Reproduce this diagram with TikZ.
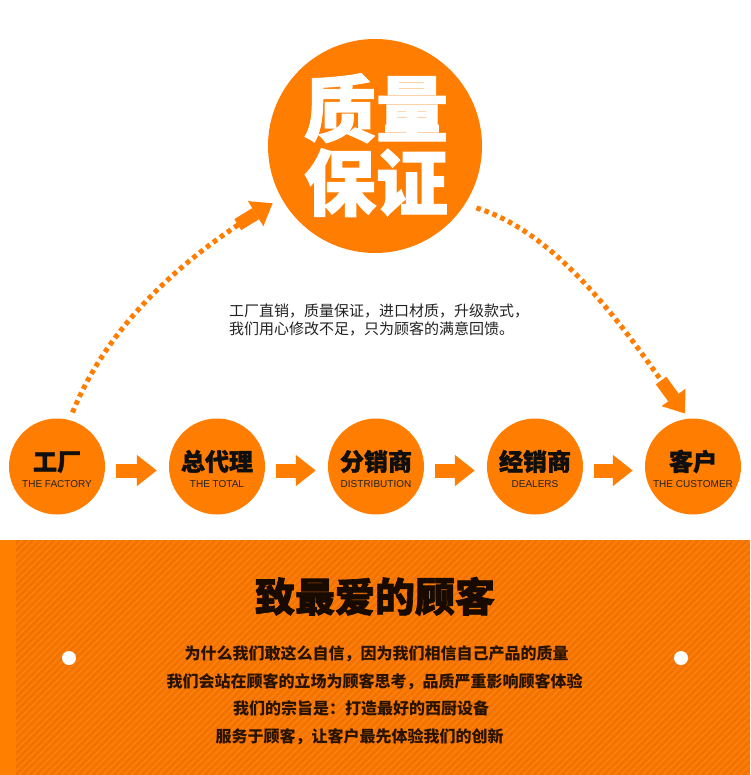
\documentclass[tikz,border=0pt]{standalone}
\usepackage{fontspec}
\setmainfont{Liberation Sans}
\newfontfamily\cjk{Noto Sans CJK SC}
\newfontfamily\cjkh[FakeBold=1.6]{Noto Sans CJK SC}
\usetikzlibrary{arrows.meta,calc}
\definecolor{org}{RGB}{255,125,0}
\definecolor{band}{RGB}{244,115,0}
\definecolor{stripe}{RGB}{250,127,12}
\definecolor{strip}{RGB}{255,128,0}
\definecolor{ink}{RGB}{15,15,15}
\definecolor{grey}{RGB}{34,34,34}
\definecolor{brownink}{RGB}{40,18,0}
\definecolor{titleink}{RGB}{25,10,0}
\begin{document}
\begin{tikzpicture}[x=1pt,y=-1pt,
  circ/.style={circle,fill=org,draw=none,inner sep=0pt},
  toptext/.style={font=\cjkh\bfseries\fontsize{72}{72}\selectfont,text=white,inner sep=0pt,text height=59.8pt,text depth=5pt},
  cnlab/.style={font=\cjkh\bfseries\fontsize{24}{24}\selectfont,text=ink,inner sep=0pt,text height=19.9pt,text depth=1.7pt},
  enlab/.style={font=\fontsize{10}{10}\selectfont,text=grey,inner sep=0pt,text height=7.2pt,text depth=0pt},
  para/.style={font=\cjk\fontsize{15}{15}\selectfont,text=grey,inner sep=0pt,anchor=west,text height=12.5pt,text depth=1pt},
  bodyline/.style={font=\cjk\bfseries\fontsize{16}{16}\selectfont,text=brownink,inner sep=0pt,text height=13.3pt,text depth=1.1pt},
  titletext/.style={font=\cjkh\bfseries\fontsize{40}{40}\selectfont,text=titleink,inner sep=0pt,text height=33.2pt,text depth=2.8pt},
  wdot/.style={circle,fill=white,draw=none,inner sep=0pt,minimum size=14pt},
  blockarrow/.style={draw=org,line width=14pt,-{Triangle[width=30pt,length=20pt]}},
  dotarc/.style={draw=org,line width=5pt,dash pattern=on 4.6pt off 4pt,
    -{Rectangle[length=21pt,width=13pt,sep=0pt]Triangle[length=20pt,width=28pt]}}
]
\useasboundingbox (0,0) rectangle (750,775);
\fill[white] (0,0) rectangle (750,775);

% bottom band
\begin{scope}
\clip (0,540) rectangle (750,775);
\fill[band] (0,540) rectangle (750,775);
\foreach \x in {-240,-233,...,750} \draw[stripe,line width=2pt] (\x,775) -- (\x+235,540);
\fill[strip] (0,540) rectangle (16,775);
\end{scope}

% top circle
\node[circ,minimum size=214pt] (top) at (375,146) {};
\node[toptext] (q1) at (376,108.5) {质量};
\node[toptext] (q2) at (376,182.5) {保证};

% paragraph
\node[para] (p1) at (229,311) {工厂直销，质量保证，进口材质，升级款式，};
\node[para] (p2) at (229,329) {我们用心修改不足，只为顾客的满意回馈。};

% step circles
\node[circ,minimum size=96pt] (c1) at (57,466.5) {};
\node[circ,minimum size=96pt] (c2) at (217,466.5) {};
\node[circ,minimum size=96pt] (c3) at (376,466.5) {};
\node[circ,minimum size=96pt] (c4) at (535,466.5) {};
\node[circ,minimum size=96pt] (c5) at (693,466.5) {};

\node[cnlab] (n1) at ([yshift=5pt]c1.center) {工厂};
\node[cnlab] (n2) at ([yshift=5pt]c2.center) {总代理};
\node[cnlab] (n3) at ([yshift=5pt]c3.center) {分销商};
\node[cnlab] (n4) at ([yshift=5pt]c4.center) {经销商};
\node[cnlab] (n5) at ([yshift=5pt]c5.center) {客户};

\node[enlab] (e1) at ([yshift=-17.5pt]c1.center) {THE FACTORY};
\node[enlab] (e2) at ([yshift=-17.5pt]c2.center) {THE TOTAL};
\node[enlab] (e3) at ([yshift=-17.5pt]c3.center) {DISTRIBUTION};
\node[enlab] (e4) at ([yshift=-17.5pt]c4.center) {DEALERS};
\node[enlab] (e5) at ([yshift=-17.5pt]c5.center) {THE CUSTOMER};

% block arrows
\draw[blockarrow,shorten <=11pt,shorten >=12pt] ([yshift=-4pt]c1.east) -- ([yshift=-4pt]c2.west);
\draw[blockarrow,shorten <=11pt,shorten >=12pt] ([yshift=-4pt]c2.east) -- ([yshift=-4pt]c3.west);
\draw[blockarrow,shorten <=11pt,shorten >=12pt] ([yshift=-4pt]c3.east) -- ([yshift=-4pt]c4.west);
\draw[blockarrow,shorten <=11pt,shorten >=12pt] ([yshift=-4pt]c4.east) -- ([yshift=-4pt]c5.west);

% dotted arcs
\draw[dotarc,shorten <=8pt,shorten >=10pt] (c1.75) .. controls (110,320) and (190,254) .. (top.209);
\draw[dotarc,shorten <=12pt,shorten >=6pt] (top.327) .. controls (565,235) and (635,345) .. (c5.95);

% bottom texts
\node[titletext] (title) at (375,596.5) {致最爱的顾客};
\node[bodyline] (b1) at (376.5,653) {为什么我们敢这么自信，因为我们相信自己产品的质量};
\node[bodyline] (b2) at (374.5,681) {我们会站在顾客的立场为顾客思考，品质严重影响顾客体验};
\node[bodyline] (b3) at (361,708.5) {我们的宗旨是：打造最好的西厨设备};
\node[bodyline] (b4) at (359.5,736.5) {服务于顾客，让客户最先体验我们的创新};

\node[wdot] (d1) at (69,658) {};
\node[wdot] (d2) at (681,658) {};
\end{tikzpicture}
\end{document}
